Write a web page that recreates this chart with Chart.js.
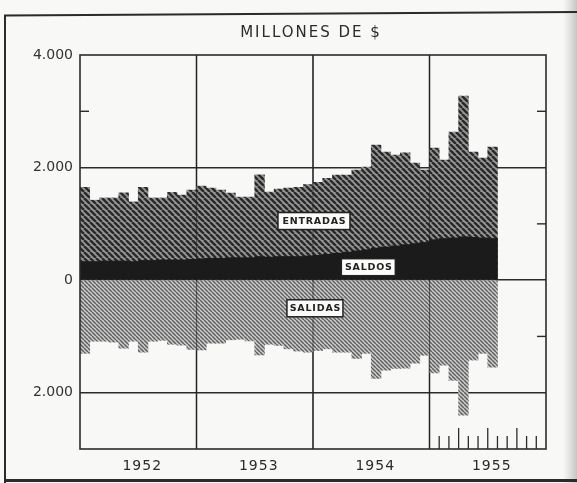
<!DOCTYPE html>
<html>
<head>
<meta charset="utf-8">
<script src="https://cdn.jsdelivr.net/npm/chart.js@4.4.1/dist/chart.umd.min.js"></script>
<style>
  html, body { margin: 0; padding: 0; background: #f8f8f6; }
  #wrap { width: 577px; height: 483px; position: relative; }
</style>
</head>
<body>
<div id="wrap"><canvas id="c" width="577" height="483"></canvas></div>
<script>
// ---- data (millones de $) ----
const years = ['1952', '1953', '1954', '1955'];
const monthNames = ['ene', 'feb', 'mar', 'abr', 'may', 'jun', 'jul', 'ago', 'sep', 'oct', 'nov', 'dic'];
const entradas = [
  1650, 1420, 1460, 1460, 1550, 1390, 1650, 1460, 1460, 1560, 1510, 1600,
  1670, 1635, 1600, 1545, 1475, 1475, 1870, 1565, 1620, 1635, 1650, 1700,
  1740, 1810, 1865, 1865, 1955, 2010, 2400, 2275, 2220, 2260, 2080, 1955,
  2345, 2135, 2630, 3270, 2275, 2170, 2365
];
const salidas = [
  -1300, -1085, -1085, -1100, -1210, -1085, -1280, -1085, -1070, -1140, -1155, -1230,
  -1240, -1120, -1120, -1060, -1050, -1080, -1330, -1140, -1160, -1220, -1260, -1280,
  -1250, -1220, -1280, -1280, -1390, -1300, -1745, -1600, -1570, -1565, -1475, -1335,
  -1650, -1510, -1780, -2400, -1420, -1300, -1545
];
const saldos = [
  330, 330, 340, 340, 340, 330, 350, 350, 360, 360, 360, 370,
  380, 390, 390, 400, 400, 400, 420, 410, 420, 420, 420, 430,
  440, 460, 480, 500, 520, 540, 570, 590, 610, 630, 650, 670,
  720, 740, 750, 770, 760, 750, 740
];
const yTickValues = [4000, 2000, 0, -2000];
const yTickTexts = ['4.000', '2.000', '0', '2.000'];
const yGridValues = [2000, 0, -2000];
const yMinorValues = [3000, 1000, -1000];
const titleText = 'MILLONES DE $';
const seriesLabels = ['ENTRADAS', 'SALDOS', 'SALIDAS'];

// category table built from the arrays above
const labels = [];
years.forEach(y => monthNames.forEach(m => labels.push(m + ' ' + y)));

function hatch(bg, fg, p, lw) {
  const c = document.createElement('canvas');
  c.width = p; c.height = p;
  const g = c.getContext('2d');
  g.fillStyle = bg; g.fillRect(0, 0, p, p);
  g.strokeStyle = fg; g.lineWidth = lw;
  g.beginPath();
  for (let k = -1; k <= 1; k++) { g.moveTo(k * p, 0); g.lineTo(k * p + p, p); }
  g.stroke();
  return document.getElementById('c').getContext('2d').createPattern(c, 'repeat');
}
const patEntradas = hatch('#989898', '#2a2a2a', 6, 2.5);
const patSalidas = hatch('#cbcbcb', '#5e5e5e', 4, 1.4);

const INK = '#2b2b2b';
const FONT = '"DejaVu Sans", sans-serif';

const deco = {
  id: 'deco',
  beforeDraw(chart) {
    const { ctx, width, height } = chart;
    ctx.save();
    ctx.fillStyle = '#f8f8f6';
    ctx.fillRect(0, 0, width, height);
    const gr = ctx.createLinearGradient(width - 14, 0, width, 0);
    gr.addColorStop(0, 'rgba(200,200,200,0)');
    gr.addColorStop(1, 'rgba(190,190,190,0.9)');
    ctx.fillStyle = gr;
    ctx.fillRect(width - 14, 0, 14, height);
    // outer frame
    ctx.strokeStyle = INK;
    ctx.lineWidth = 2;
    ctx.beginPath();
    ctx.moveTo(5, height); ctx.lineTo(5, 15.5); ctx.lineTo(width, 12);
    ctx.stroke();
    ctx.lineWidth = 3;
    ctx.beginPath(); ctx.moveTo(5, 480.5); ctx.lineTo(width, 480.5); ctx.stroke();
    // title
    ctx.fillStyle = INK;
    ctx.font = '15px ' + FONT;
    ctx.letterSpacing = '2px';
    ctx.textAlign = 'center';
    ctx.textBaseline = 'middle';
    ctx.fillText(titleText, 311, 33);
    // year labels
    const x = chart.scales.x;
    const half = (x.getPixelForValue(1) - x.getPixelForValue(0)) / 2;
    ctx.font = '14px ' + FONT;
    ctx.letterSpacing = '1px';
    years.forEach((y, i) => {
      const a = x.getPixelForValue(i * 12) - half;
      const b = x.getPixelForValue(i * 12 + 11) + half;
      ctx.fillText(y, (a + b) / 2 + 4, 466);
    });
    ctx.letterSpacing = '0px';
    ctx.restore();
  },
  beforeDatasetsDraw(chart) {
    const { ctx, chartArea: ca } = chart;
    const x = chart.scales.x;
    const half = (x.getPixelForValue(1) - x.getPixelForValue(0)) / 2;
    ctx.save();
    ctx.strokeStyle = INK; ctx.lineWidth = 1.4;
    for (let i = 1; i < years.length; i++) {
      const px = x.getPixelForValue(i * 12) - half;
      ctx.beginPath(); ctx.moveTo(px, ca.top); ctx.lineTo(px, ca.bottom); ctx.stroke();
    }
    ctx.restore();
  },
  afterDatasetsDraw(chart) {
    const { ctx, chartArea: ca } = chart;
    const x = chart.scales.x, y = chart.scales.y;
    const half = (x.getPixelForValue(1) - x.getPixelForValue(0)) / 2;
    ctx.save();
    // year lines showing through the bars
    ctx.strokeStyle = 'rgba(30,30,30,0.55)'; ctx.lineWidth = 1.2;
    for (let i = 1; i < years.length; i++) {
      const px = x.getPixelForValue(i * 12) - half;
      ctx.beginPath(); ctx.moveTo(px, ca.top); ctx.lineTo(px, ca.bottom); ctx.stroke();
    }
    // plot frame
    ctx.strokeStyle = INK; ctx.lineWidth = 1.6;
    ctx.strokeRect(ca.left, ca.top, ca.right - ca.left, ca.bottom - ca.top);
    // minor y ticks
    ctx.lineWidth = 1.4;
    yMinorValues.forEach(v => {
      const py = y.getPixelForValue(v);
      ctx.beginPath(); ctx.moveTo(ca.right - 9, py); ctx.lineTo(ca.right, py); ctx.stroke();
    });
    const p3 = y.getPixelForValue(yMinorValues[0]);
    ctx.beginPath(); ctx.moveTo(ca.left, p3); ctx.lineTo(ca.left + 9, p3); ctx.stroke();
    // month ticks along the bottom of the last year
    const last = (years.length - 1) * 12;
    ctx.lineWidth = 1.3;
    for (let k = 1; k < 12; k++) {
      const px = x.getPixelForValue(last + k) - half;
      const h = (k % 3 === 0) ? 21 : 13;
      ctx.beginPath(); ctx.moveTo(px, ca.bottom); ctx.lineTo(px, ca.bottom - h); ctx.stroke();
    }
    // series label boxes
    const boxes = [
      { t: seriesLabels[0], i: 23.6, v: 1050, w: 72 },
      { t: seriesLabels[1], i: 29.2, v: 230, w: 54 },
      { t: seriesLabels[2], i: 23.7, v: -500, w: 56 }
    ];
    ctx.font = 'bold 9.5px ' + FONT;
    ctx.letterSpacing = '0.8px';
    ctx.textAlign = 'center';
    ctx.textBaseline = 'middle';
    boxes.forEach(b => {
      const cx = x.getPixelForValue(b.i), cy = y.getPixelForValue(b.v);
      ctx.fillStyle = '#fbfbfa';
      ctx.fillRect(cx - b.w / 2, cy - 8.5, b.w, 17);
      ctx.strokeStyle = '#222'; ctx.lineWidth = 1.5;
      ctx.strokeRect(cx - b.w / 2, cy - 8.5, b.w, 17);
      ctx.fillStyle = '#222';
      ctx.fillText(b.t, cx + 0.5, cy + 0.5);
    });
    ctx.letterSpacing = '0px';
    ctx.restore();
  }
};

new Chart(document.getElementById('c'), {
  type: 'bar',
  data: {
    labels: labels,
    datasets: [
      { label: 'Saldos', data: saldos, backgroundColor: '#1b1b1b' },
      { label: 'Entradas', data: entradas, backgroundColor: patEntradas },
      { label: 'Salidas', data: salidas, backgroundColor: patSalidas }
    ]
  },
  options: {
    responsive: false,
    animation: false,
    events: [],
    datasets: { bar: { grouped: false, barPercentage: 1, categoryPercentage: 1, borderWidth: 0 } },
    layout: { padding: { top: 55, right: 31, bottom: 34, left: 0 } },
    plugins: { legend: { display: false }, tooltip: { enabled: false }, title: { display: false } },
    scales: {
      x: {
        grid: { display: false, drawTicks: false },
        border: { display: false },
        ticks: { display: false },
        afterFit: s => { s.height = 0; }
      },
      y: {
        min: -3000, max: 4000,
        afterBuildTicks: s => { s.ticks = [-3000, -2000, -1000, 0, 1000, 2000, 3000, 4000].map(v => ({ value: v })); },
        afterFit: s => { s.width = 80; },
        grid: {
          drawTicks: false,
          lineWidth: 1.4,
          color: c => yGridValues.includes(c.tick && c.tick.value) ? INK : 'rgba(0,0,0,0)'
        },
        border: { display: false },
        ticks: {
          padding: 7,
          color: '#333',
          font: { family: 'DejaVu Sans', size: 14 },
          callback: v => { const i = yTickValues.indexOf(v); return i >= 0 ? yTickTexts[i] : ''; }
        }
      }
    }
  },
  plugins: [deco]
});
</script>
</body>
</html>
